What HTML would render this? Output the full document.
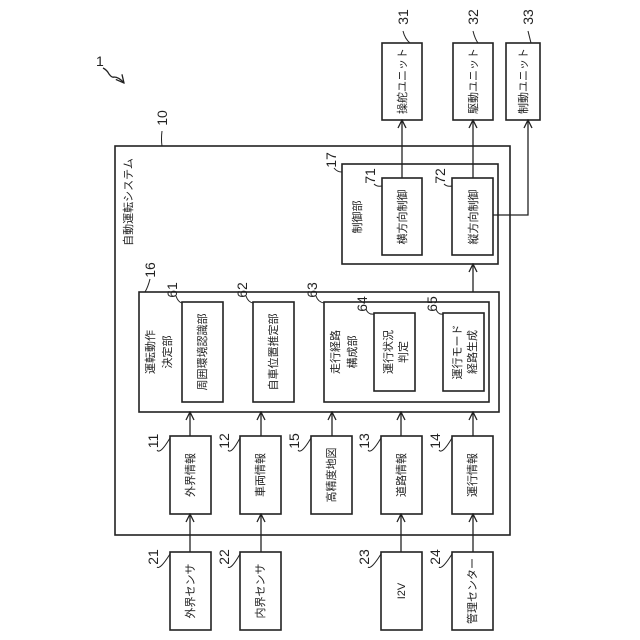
<!DOCTYPE html>
<html><head><meta charset="utf-8"><style>
html,body{margin:0;padding:0;background:#fff}
svg{display:block}
text{font-family:"Liberation Sans","Noto Sans CJK JP",sans-serif;fill:#222}
</style></head><body>
<svg width="640" height="640" viewBox="0 0 640 640" xmlns="http://www.w3.org/2000/svg">
<defs>
<marker id="a" markerWidth="10" markerHeight="10" refX="9" refY="5" orient="auto" markerUnits="userSpaceOnUse">
<polyline points="1,1 9,5 1,9" fill="none" stroke="#222" stroke-width="1.3"/>
</marker>
</defs>
<g fill="none" stroke="#222" stroke-width="1.6">
<rect x="115" y="146" width="395" height="389"/>
<rect x="342" y="164" width="156" height="100"/>
<rect x="382" y="178" width="40" height="77"/>
<rect x="452" y="178" width="41" height="77"/>
<rect x="382" y="43" width="40" height="77"/>
<rect x="453" y="43" width="40" height="77"/>
<rect x="506" y="43" width="34" height="77"/>
<rect x="139" y="292" width="360" height="120"/>
<rect x="182" y="302" width="41" height="100"/>
<rect x="253" y="302" width="41" height="100"/>
<rect x="324" y="302" width="165" height="100"/>
<rect x="374" y="313" width="41" height="78"/>
<rect x="443" y="313" width="41" height="78"/>
<rect x="170" y="436" width="41" height="78"/>
<rect x="240" y="436" width="41" height="78"/>
<rect x="311" y="436" width="41" height="78"/>
<rect x="381" y="436" width="41" height="78"/>
<rect x="452" y="436" width="41" height="78"/>
<rect x="170" y="552" width="41" height="78"/>
<rect x="240" y="552" width="41" height="78"/>
<rect x="381" y="552" width="41" height="78"/>
<rect x="452" y="552" width="41" height="78"/>
</g>
<g fill="none" stroke="#222" stroke-width="1.3" marker-end="url(#a)">
<line x1="402" y1="178" x2="402" y2="120"/>
<line x1="473" y1="178" x2="473" y2="120"/>
<polyline points="493,215 528,215 528,120"/>
<line x1="473" y1="292" x2="473" y2="264"/>
<line x1="190" y1="436" x2="190" y2="412"/>
<line x1="261" y1="436" x2="261" y2="412"/>
<line x1="332" y1="436" x2="332" y2="412"/>
<line x1="401" y1="436" x2="401" y2="412"/>
<line x1="473" y1="436" x2="473" y2="412"/>
<line x1="190" y1="552" x2="190" y2="514"/>
<line x1="261" y1="552" x2="261" y2="514"/>
<line x1="401" y1="552" x2="401" y2="514"/>
<line x1="473" y1="552" x2="473" y2="514"/>
<path d="M103,68 q4,2 6,6 q3,4 5,3 q5,0 10,6"/>
</g>
<g fill="none" stroke="#222" stroke-width="1">
<path d="M162,131 q-1,8 0,15"/>
<path d="M334,168 q3,4 8,4"/>
<path d="M374,184 q3,3 8,2"/>
<path d="M444,184 q3,3 8,2"/>
<path d="M150,279 q-2,8 -5,13"/>
<path d="M176,296 q2,6 6,7"/>
<path d="M246,296 q2,6 7,7"/>
<path d="M316,296 q2,6 8,7"/>
<path d="M366,309 q2,6 8,5"/>
<path d="M436,309 q2,6 7,5"/>
<path d="M157,450 q3,5 13,-12"/>
<path d="M228,450 q3,5 12,-12"/>
<path d="M298,450 q3,5 13,-12"/>
<path d="M368,450 q3,5 13,-12"/>
<path d="M439,450 q3,5 13,-12"/>
<path d="M157,567 q3,3 13,-13"/>
<path d="M228,567 q3,3 12,-13"/>
<path d="M368,567 q3,3 13,-13"/>
<path d="M439,567 q3,3 13,-13"/>
<path d="M403,31 q2,8 7,12"/>
<path d="M473,31 q2,8 5,12"/>
<path d="M528,31 q2,8 3,12"/>
</g>
<g font-size="14">
<text x="96" y="66">1</text>
<text transform="translate(167,118) rotate(-90)" text-anchor="middle">10</text>
<text transform="translate(336,160) rotate(-90)" text-anchor="middle">17</text>
<text transform="translate(375,176) rotate(-90)" text-anchor="middle">71</text>
<text transform="translate(445,176) rotate(-90)" text-anchor="middle">72</text>
<text transform="translate(155,270) rotate(-90)" text-anchor="middle">16</text>
<text transform="translate(177,290) rotate(-90)" text-anchor="middle">61</text>
<text transform="translate(247,290) rotate(-90)" text-anchor="middle">62</text>
<text transform="translate(317,290) rotate(-90)" text-anchor="middle">63</text>
<text transform="translate(367,304) rotate(-90)" text-anchor="middle">64</text>
<text transform="translate(437,304) rotate(-90)" text-anchor="middle">65</text>
<text transform="translate(158,441) rotate(-90)" text-anchor="middle">11</text>
<text transform="translate(229,441) rotate(-90)" text-anchor="middle">12</text>
<text transform="translate(299,441) rotate(-90)" text-anchor="middle">15</text>
<text transform="translate(369,441) rotate(-90)" text-anchor="middle">13</text>
<text transform="translate(440,441) rotate(-90)" text-anchor="middle">14</text>
<text transform="translate(158,557) rotate(-90)" text-anchor="middle">21</text>
<text transform="translate(229,557) rotate(-90)" text-anchor="middle">22</text>
<text transform="translate(369,557) rotate(-90)" text-anchor="middle">23</text>
<text transform="translate(440,557) rotate(-90)" text-anchor="middle">24</text>
<text transform="translate(408,17) rotate(-90)" text-anchor="middle">31</text>
<text transform="translate(478,17) rotate(-90)" text-anchor="middle">32</text>
<text transform="translate(533,17) rotate(-90)" text-anchor="middle">33</text>
</g>
<g font-size="11" text-anchor="middle">
<text transform="translate(132,202) rotate(-90)">自動運転システム</text>
<text transform="translate(361,217) rotate(-90)">制御部</text>
<text transform="translate(406,217) rotate(-90)">横方向制御</text>
<text transform="translate(477,217) rotate(-90)">縦方向制御</text>
<text transform="translate(406,81) rotate(-90)">操舵ユニット</text>
<text transform="translate(477,81) rotate(-90)">駆動ユニット</text>
<text transform="translate(527,81) rotate(-90)">制動ユニット</text>
<text transform="translate(154,352) rotate(-90)">運転動作</text>
<text transform="translate(171,352) rotate(-90)">決定部</text>
<text transform="translate(206,352) rotate(-90)">周囲環境認識部</text>
<text transform="translate(277,352) rotate(-90)">自車位置推定部</text>
<text transform="translate(339,352) rotate(-90)">走行経路</text>
<text transform="translate(356,352) rotate(-90)">構成部</text>
<text transform="translate(392,352) rotate(-90)">運行状況</text>
<text transform="translate(407,352) rotate(-90)">判定</text>
<text transform="translate(461,352) rotate(-90)">運行モード</text>
<text transform="translate(476,352) rotate(-90)">経路生成</text>
<text transform="translate(194,475) rotate(-90)">外界情報</text>
<text transform="translate(264,475) rotate(-90)">車両情報</text>
<text transform="translate(335,475) rotate(-90)">高精度地図</text>
<text transform="translate(405,475) rotate(-90)">道路情報</text>
<text transform="translate(476,475) rotate(-90)">運行情報</text>
<text transform="translate(194,591) rotate(-90)">外界センサ</text>
<text transform="translate(264,591) rotate(-90)">内界センサ</text>
<text transform="translate(405,591) rotate(-90)">I2V</text>
<text transform="translate(476,591) rotate(-90)">管理センター</text>
</g>
</svg>
</body></html>
